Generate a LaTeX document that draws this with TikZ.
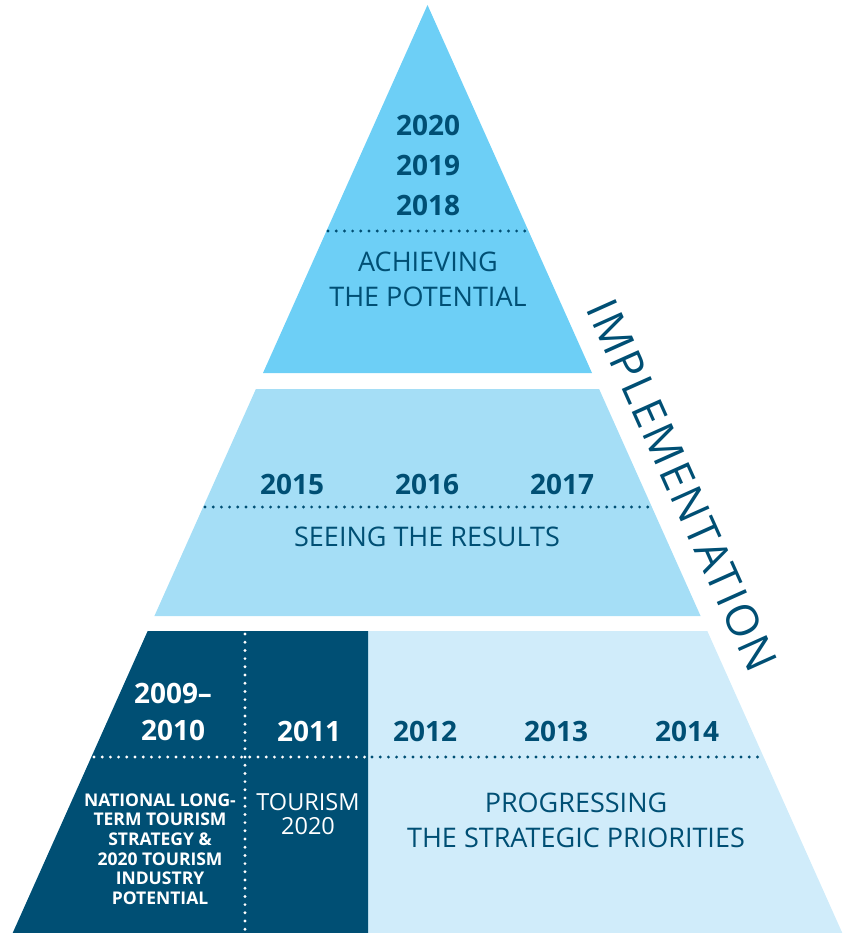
\documentclass[tikz,border=0pt]{standalone}
\usepackage{fontspec}
\setmainfont{Open Sans}
\newfontfamily\spacedfont[LetterSpace=5]{Open Sans}
\definecolor{tierTop}{HTML}{6DCFF6}
\definecolor{tierMid}{HTML}{A5DEF6}
\definecolor{tierLow}{HTML}{D0ECFA}
\definecolor{navy}{HTML}{004F74}
\tikzset{
  year/.style={text=navy, font=\fontsize{28}{30}\selectfont\bfseries},
  phase/.style={text=navy, font=\fontsize{27}{35}\selectfont, align=center},
  dotline/.style={line width=3.2pt, line cap=round, dash pattern=on 0pt off 8.2pt},
}
\begin{document}
\begin{tikzpicture}[x=1pt, y=-1pt]
    \useasboundingbox (0,0) rectangle (846,933);

    % Draw the three tiers
    \fill[tierTop] (427.5,5) -- (592,373) -- (263,373) -- cycle;
    \fill[tierMid] (255.9,389) -- (599.1,389) -- (700.6,616) -- (154.4,616) -- cycle;
    \fill[tierLow] (147.7,631) -- (707.3,631) -- (842.3,933) -- (12.7,933) -- cycle;
    % Dark block of the first years
    \fill[navy] (147.7,631) -- (368,631) -- (368,933) -- (12.7,933) -- cycle;

    % Dotted dividers
    \draw[dotline, navy] (328,231) -- (527,231);
    \draw[dotline, navy] (205,507) -- (650,507);
    \draw[dotline, white] (94,757) -- (366,757);
    \draw[dotline, navy] (372,757) -- (761,757);
    \draw[dotline, white] (245,634) -- (245,931);

    % Top tier
    \node[year] (y2020) at (428,125) {2020};
    \node[year] (y2019) at (428,165) {2019};
    \node[year] (y2018) at (428,205) {2018};
    \node[phase] (achieve) at (428,279) {ACHIEVING\\THE POTENTIAL};

    % Middle tier
    \node[year] (y2015) at (292,484) {2015};
    \node[year] (y2016) at (427,484) {2016};
    \node[year] (y2017) at (562,484) {2017};
    \node[phase] (results) at (427,537) {SEEING THE RESULTS};

    % Bottom tier
    \node[year, text=white, align=center, font=\fontsize{28}{37}\selectfont\bfseries]
        (y2009) at (173,712) {2009--\\2010};
    \node[year, text=white] (y2011) at (309,731) {2011};
    \node[year] (y2012) at (425,731) {2012};
    \node[year] (y2013) at (556,731) {2013};
    \node[year] (y2014) at (687,731) {2014};
    \node[text=white, align=center, font=\fontsize{17.5}{19.6}\selectfont\bfseries]
        (strategy) at (160,849) {NATIONAL LONG-\\TERM TOURISM\\STRATEGY \&\\2020 TOURISM\\INDUSTRY\\POTENTIAL};
    \node[text=white, align=center, font=\fontsize{23.5}{24}\selectfont]
        (t2020) at (308,814) {TOURISM\\2020};
    \node[phase] (progress) at (576,820) {PROGRESSING\\THE STRATEGIC PRIORITIES};

    % Side label
    \node[text=navy, font=\spacedfont\fontsize{44}{48}\selectfont, rotate=-65.9] (impl) at (682,485) {IMPLEMENTATION};
\end{tikzpicture}
\end{document}
